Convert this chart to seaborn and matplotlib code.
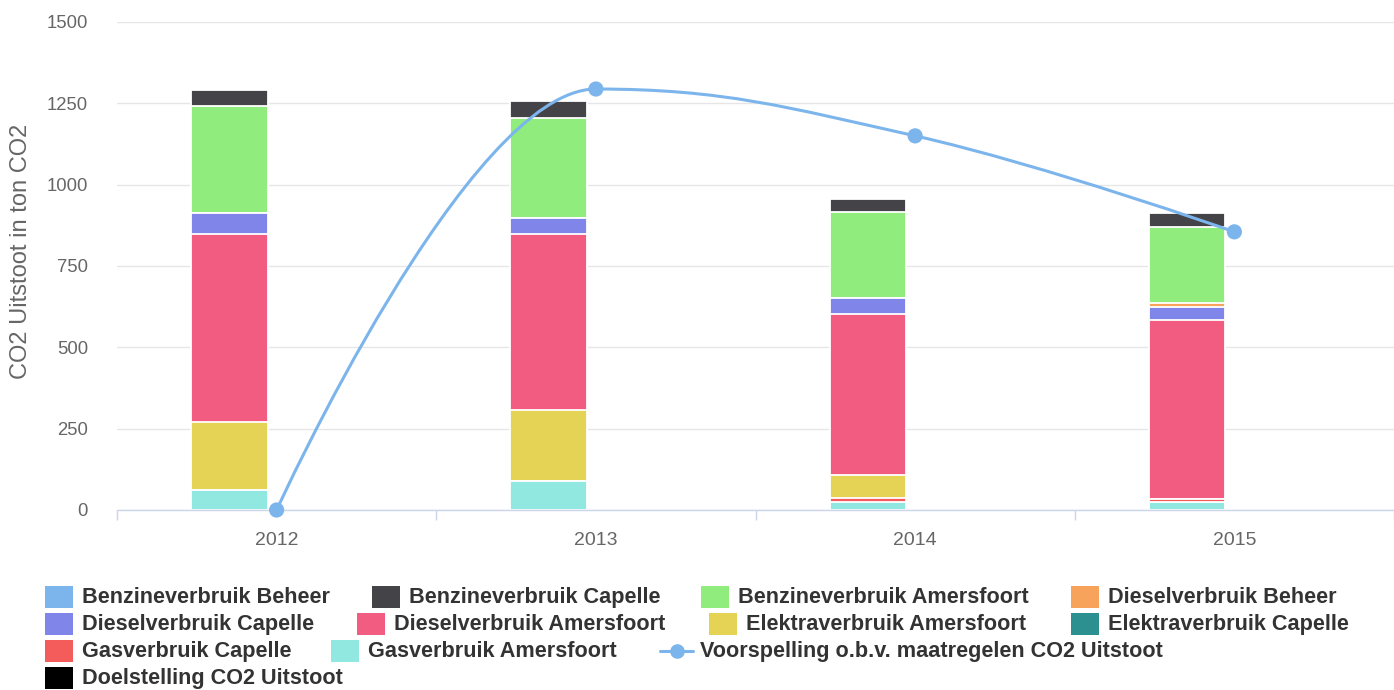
import numpy as np
import pandas as pd
import matplotlib
matplotlib.use("Agg")
import matplotlib.pyplot as plt
import seaborn as sns
from matplotlib.path import Path
from matplotlib.patches import PathPatch, Rectangle
from matplotlib.lines import Line2D

# ---------------- data ----------------
years = ["2012", "2013", "2014", "2015"]
benzine_beheer = [0, 0, 0, 0]
benzine_capelle = [50, 53, 41, 41]
benzine_amersfoort = [327, 305, 264, 234]
diesel_beheer = [0, 0, 0, 12]
diesel_capelle = [66, 51, 48, 42]
diesel_amersfoort = [578, 541, 495, 548]
elektra_amersfoort = [209, 218, 71, 0]
elektra_capelle = [0, 0, 0, 0]
gas_capelle = [0, 0, 12, 10]
gas_amersfoort = [61, 89, 25, 25]
voorspelling = [0, 1294, 1150, 855]
y_ticks = [0, 250, 500, 750, 1000, 1250, 1500]
y_title = "CO2 Uitstoot in ton CO2"

series = [
    ("Benzineverbruik Beheer", benzine_beheer, "#7cb5ec"),
    ("Benzineverbruik Capelle", benzine_capelle, "#434348"),
    ("Benzineverbruik Amersfoort", benzine_amersfoort, "#90ed7d"),
    ("Dieselverbruik Beheer", diesel_beheer, "#f7a35c"),
    ("Dieselverbruik Capelle", diesel_capelle, "#8085e9"),
    ("Dieselverbruik Amersfoort", diesel_amersfoort, "#f15c80"),
    ("Elektraverbruik Amersfoort", elektra_amersfoort, "#e4d354"),
    ("Elektraverbruik Capelle", elektra_capelle, "#2b908f"),
    ("Gasverbruik Capelle", gas_capelle, "#f45b5b"),
    ("Gasverbruik Amersfoort", gas_amersfoort, "#91e8e1"),
]
line_name = "Voorspelling o.b.v. maatregelen CO2 Uitstoot"
line_color = "#7cb5ec"
target_name = "Doelstelling CO2 Uitstoot"
target_color = "#000000"

# ---------------- figure ----------------
sns.set_theme(style="white")
plt.rcParams["font.family"] = ["Liberation Sans", "DejaVu Sans"]

W, H = 1394, 690
fig = plt.figure(figsize=(W / 100, H / 100), dpi=100)
ax_left, ax_right, ax_top, ax_bottom = 117, 1394, 22, 510
ax = fig.add_axes([ax_left / W, 1 - ax_bottom / H, (ax_right - ax_left) / W, (ax_bottom - ax_top) / H])

n = len(years)
idx = np.arange(n)
bar_offset = -0.148
bar_width = 0.24

# stacked columns: first series sits on top (Highcharts order)
vals = np.array([s[1] for s in series], dtype=float)
for k, (name, v, c) in enumerate(series):
    if np.all(np.array(v) == 0):
        continue
    cum = vals[k:].sum(axis=0)
    df = pd.DataFrame({"x": idx + bar_offset, "y": cum})
    sns.barplot(data=df, x="x", y="y", native_scale=True, width=bar_width,
                color=c, saturation=1, edgecolor="white", linewidth=1.3,
                errorbar=None, ax=ax, zorder=2)

# spline line (Highcharts-style smoothing)
def spline_path(xs, ys, smoothing=1.5):
    denom = smoothing + 1
    m = len(xs)
    lc = [(xs[i], ys[i]) for i in range(m)]
    rc = [(xs[i], ys[i]) for i in range(m)]
    for i in range(1, m - 1):
        px, py = xs[i], ys[i]
        lx, ly = xs[i - 1], ys[i - 1]
        nx, ny = xs[i + 1], ys[i + 1]
        lcx = (smoothing * px + lx) / denom
        lcy = (smoothing * py + ly) / denom
        rcx = (smoothing * px + nx) / denom
        rcy = (smoothing * py + ny) / denom
        if rcx != lcx:
            corr = ((rcy - lcy) * (rcx - px)) / (rcx - lcx) + py - rcy
            lcy += corr
            rcy += corr
        if lcy > ly and lcy > py:
            lcy = max(ly, py); rcy = 2 * py - lcy
        elif lcy < ly and lcy < py:
            lcy = min(ly, py); rcy = 2 * py - lcy
        if rcy > ny and rcy > py:
            rcy = max(ny, py); lcy = 2 * py - rcy
        elif rcy < ny and rcy < py:
            rcy = min(ny, py); lcy = 2 * py - rcy
        lc[i] = (lcx, lcy)
        rc[i] = (rcx, rcy)
    verts = [(xs[0], ys[0])]
    codes = [Path.MOVETO]
    for i in range(1, m):
        verts += [rc[i - 1], lc[i], (xs[i], ys[i])]
        codes += [Path.CURVE4] * 3
    return Path(verts, codes)

path = spline_path(list(idx.astype(float)), list(map(float, voorspelling)))
ax.add_patch(PathPatch(path, facecolor="none", edgecolor=line_color, lw=2.2, zorder=5, capstyle="round"))
sns.scatterplot(x=idx.astype(float), y=voorspelling, color=line_color, s=120,
                edgecolor="none", ax=ax, zorder=6, legend=False, clip_on=False)

# axes styling
ax.set_xlim(-0.5, n - 0.5)
ax.set_ylim(0, 1500)
ax.set_yticks(y_ticks)
ax.set_yticklabels([str(t) for t in y_ticks])
ax.set_xticks(idx)
ax.set_xticklabels(years)
ax.set_xticks(np.arange(-0.5, n, 1.0), minor=True)
ax.set_xlabel("")
ax.set_ylabel("")
ax.yaxis.grid(True, color="#e6e6e6", lw=1.0, zorder=0)
ax.xaxis.grid(False)
ax.set_axisbelow(True)
for s in ["top", "right", "left"]:
    ax.spines[s].set_visible(False)
ax.spines["bottom"].set_color("#ccd6eb")
ax.spines["bottom"].set_linewidth(1.0)
ax.tick_params(axis="y", length=0, pad=21, labelsize=13.3, labelcolor="#666666")
ax.tick_params(axis="x", which="major", length=0, pad=16, labelsize=14, labelcolor="#666666")
ax.tick_params(axis="x", which="minor", bottom=True, length=7.5, width=1.0, color="#ccd6eb")

fig.text(21 / W, 1 - 251 / H, y_title, rotation=90, ha="center", va="center",
         fontsize=17, color="#666666")

# legend (manual, Highcharts-like flow)
leg_rows = [
    [(45, 0), (372, 1), (701, 2), (1071, 3)],
    [(45, 4), (357, 5), (709, 6), (1071, 7)],
    [(45, 8), (331, 9), (660, "line")],
    [(45, "target")],
]
row_y = [597, 624, 651, 678]
sq = 20
for r, items in enumerate(leg_rows):
    yc = row_y[r]
    for (xl, key) in items:
        if key == "line":
            fig.add_artist(Line2D([xl / W, (xl + 33) / W], [1 - yc / H, 1 - yc / H],
                                  color=line_color, lw=2.2, transform=fig.transFigure))
            fig.add_artist(Line2D([(xl + 16.5) / W], [1 - yc / H], color=line_color,
                                  marker="o", markersize=9.5, lw=0, transform=fig.transFigure))
            label, tx = line_name, xl + 40
        else:
            if key == "target":
                label, color = target_name, target_color
            else:
                label, _, color = series[key]
            fig.add_artist(Rectangle((xl / W, 1 - (yc + sq / 2 + 1) / H), (sq + 8) / W, (sq + 2) / H,
                                     facecolor=color, edgecolor="none", transform=fig.transFigure))
            tx = xl + 37
        fig.text(tx / W, 1 - (yc + 0.5) / H, label, ha="left", va="center", fontsize=15.6,
                 fontweight="bold", color="#333333")

fig.savefig("out.png", dpi=100)
